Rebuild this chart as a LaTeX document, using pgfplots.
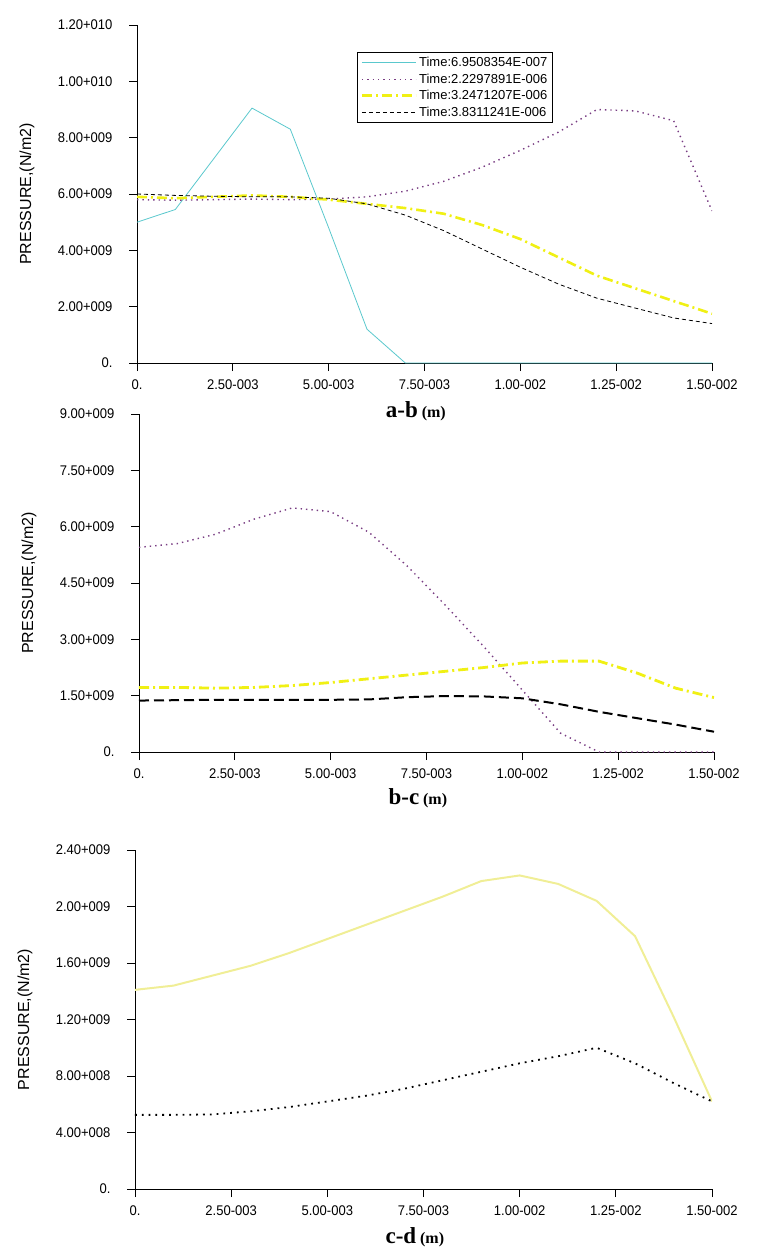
\documentclass[border=0pt]{standalone}
\usepackage{fontspec}
\setmainfont{Liberation Sans}
\newfontfamily\narrowf[FakeStretch=0.93]{Liberation Sans}
\newfontfamily\serifb{Liberation Serif}
\usepackage{pgfplots}
\pgfplotsset{compat=1.18}
\definecolor{cyanl}{RGB}{90,200,205}
\definecolor{purp}{RGB}{120,60,130}
\definecolor{yell}{RGB}{240,240,20}
\definecolor{paley}{RGB}{240,238,150}
\pgfplotsset{
 base/.style={
  scale only axis, width=575pt, height=338pt,
  axis lines=left, axis line style={-, line width=0.8pt},
  tick align=outside, major tick length=8pt,
  tick style={black, line width=0.8pt},
  scaled ticks=false,
  xmin=0, xmax=0.015, xtick={0,0.0025,0.005,0.0075,0.01,0.0125,0.015},
  xticklabels={0.,2.50-003,5.00-003,7.50-003,1.00-002,1.25-002,1.50-002},
  tick label style={font=\narrowf\fontsize{14}{14}\selectfont},
  yticklabel style={xshift=-13pt},
  xticklabel style={yshift=-5pt},
  ylabel={PRESSURE,(N/m2)},
  ylabel style={font=\fontsize{16}{16}\selectfont, at={(rel axis cs:0,0.5)}, yshift=110pt, anchor=center},
  xlabel style={font=\serifb\bfseries, at={(rel axis cs:0.485,0)}, anchor=center},
  legend image code/.code={\draw[#1] (0pt,0pt) -- (54pt,0pt);},
 },
}
\begin{document}
\begin{tikzpicture}
\path[use as bounding box] (0,0) rectangle (779pt,-1259pt);
% ---------- a-b ----------
\begin{axis}[base, at={(137pt,-363pt)}, anchor=south west,
  ymin=0, ymax=1.2e10, ytick={0,2e9,4e9,6e9,8e9,1e10,1.2e10},
  yticklabels={0.,2.00+009,4.00+009,6.00+009,8.00+009,1.00+010,1.20+010},
  xlabel={\fontsize{23}{23}\selectfont a-b\,\fontsize{16}{16}\selectfont(m)},
  xlabel style={yshift=-48pt},
  legend style={at={(0.383,0.92)}, anchor=north west, font=\fontsize{13}{16}\selectfont,
    draw=black, line width=0.6pt, inner sep=3pt, row sep=1.5pt},
  legend cell align=left]
\addplot[cyanl, line width=0.8pt] coordinates {(0,5.0e9)(0.001,5.45e9)(0.003,9.05e9)(0.004,8.3e9)(0.005,4.8e9)(0.006,1.2e9)(0.007,0)(0.008,0)(0.009,0)(0.01,0)(0.011,0)(0.012,0)(0.013,0)(0.014,0)(0.015,0)};
\addlegendentry{Time:6.9508354E-007}
\addplot[purp, line width=1.4pt, dash pattern=on 1.4pt off 4pt] coordinates {(0,5.8e9)(0.001,5.78e9)(0.002,5.8e9)(0.003,5.82e9)(0.004,5.8e9)(0.005,5.82e9)(0.006,5.9e9)(0.007,6.1e9)(0.008,6.45e9)(0.009,6.95e9)(0.01,7.55e9)(0.011,8.2e9)(0.012,9.0e9)(0.013,8.95e9)(0.014,8.6e9)(0.015,5.4e9)};
\addlegendentry{Time:2.2297891E-006}
\addplot[yell, line width=2.6pt, dash pattern=on 10pt off 4pt on 2pt off 4pt] coordinates {(0,5.9e9)(0.001,5.85e9)(0.002,5.9e9)(0.003,5.95e9)(0.004,5.9e9)(0.005,5.8e9)(0.006,5.65e9)(0.007,5.5e9)(0.008,5.3e9)(0.009,4.9e9)(0.01,4.4e9)(0.011,3.75e9)(0.012,3.1e9)(0.013,2.65e9)(0.014,2.2e9)(0.015,1.75e9)};
\addlegendentry{Time:3.2471207E-006}
\addplot[black, line width=0.8pt, dash pattern=on 4pt off 3pt] coordinates {(0,6.0e9)(0.001,5.95e9)(0.002,5.92e9)(0.003,5.9e9)(0.004,5.9e9)(0.005,5.85e9)(0.006,5.65e9)(0.007,5.25e9)(0.008,4.7e9)(0.009,4.05e9)(0.01,3.4e9)(0.011,2.8e9)(0.012,2.3e9)(0.013,1.95e9)(0.014,1.6e9)(0.015,1.4e9)};
\addlegendentry{Time:3.8311241E-006}
\end{axis}
% ---------- b-c ----------
\begin{axis}[base, at={(139pt,-752pt)}, anchor=south west,
  ymin=0, ymax=9e9, ytick={0,1.5e9,3e9,4.5e9,6e9,7.5e9,9e9},
  yticklabels={0.,1.50+009,3.00+009,4.50+009,6.00+009,7.50+009,9.00+009},
  xlabel={\fontsize{23}{23}\selectfont b-c\,\fontsize{16}{16}\selectfont(m)},
  xlabel style={yshift=-46pt}]
\addplot[purp, line width=1.4pt, dash pattern=on 1.4pt off 4pt] coordinates {(0,5.45e9)(0.001,5.55e9)(0.002,5.8e9)(0.003,6.2e9)(0.004,6.5e9)(0.005,6.4e9)(0.006,5.85e9)(0.007,4.95e9)(0.008,3.9e9)(0.009,2.8e9)(0.01,1.65e9)(0.011,0.5e9)(0.012,0)(0.013,0)(0.014,0)(0.015,0)};
\addplot[yell, line width=2.8pt, dash pattern=on 10pt off 4pt on 2pt off 4pt] coordinates {(0,1.72e9)(0.001,1.72e9)(0.002,1.7e9)(0.003,1.72e9)(0.004,1.77e9)(0.005,1.85e9)(0.006,1.95e9)(0.007,2.05e9)(0.008,2.15e9)(0.009,2.25e9)(0.01,2.37e9)(0.011,2.42e9)(0.012,2.42e9)(0.013,2.1e9)(0.014,1.7e9)(0.015,1.45e9)};
\addplot[black, line width=2pt, dash pattern=on 10pt off 5pt] coordinates {(0,1.37e9)(0.001,1.38e9)(0.002,1.39e9)(0.003,1.39e9)(0.004,1.39e9)(0.005,1.39e9)(0.006,1.4e9)(0.007,1.46e9)(0.008,1.49e9)(0.009,1.48e9)(0.01,1.43e9)(0.011,1.27e9)(0.012,1.07e9)(0.013,0.9e9)(0.014,0.73e9)(0.015,0.54e9)};
\end{axis}
% ---------- c-d ----------
\begin{axis}[base, at={(135pt,-1189pt)}, anchor=south west, width=577pt, height=339pt,
  ymin=0, ymax=2.4e9, ytick={0,4e8,8e8,1.2e9,1.6e9,2e9,2.4e9},
  yticklabels={0.,4.00+008,8.00+008,1.20+009,1.60+009,2.00+009,2.40+009},
  xlabel={\fontsize{23}{23}\selectfont c-d\,\fontsize{16}{16}\selectfont(m)},
  xlabel style={yshift=-48pt}]
\addplot[paley, line width=2pt] coordinates {(0,1.41e9)(0.001,1.44e9)(0.002,1.51e9)(0.003,1.58e9)(0.004,1.67e9)(0.005,1.77e9)(0.006,1.87e9)(0.007,1.97e9)(0.008,2.07e9)(0.009,2.18e9)(0.01,2.22e9)(0.011,2.16e9)(0.012,2.04e9)(0.013,1.79e9)(0.014,1.22e9)(0.015,0.62e9)};
\addplot[black, line width=1.8pt, dash pattern=on 1.8pt off 5pt] coordinates {(0,0.525e9)(0.001,0.525e9)(0.002,0.528e9)(0.003,0.55e9)(0.004,0.58e9)(0.005,0.62e9)(0.006,0.66e9)(0.007,0.71e9)(0.008,0.77e9)(0.009,0.83e9)(0.01,0.89e9)(0.011,0.94e9)(0.012,1.0e9)(0.013,0.89e9)(0.014,0.75e9)(0.015,0.62e9)};
\end{axis}
\end{tikzpicture}
\end{document}
